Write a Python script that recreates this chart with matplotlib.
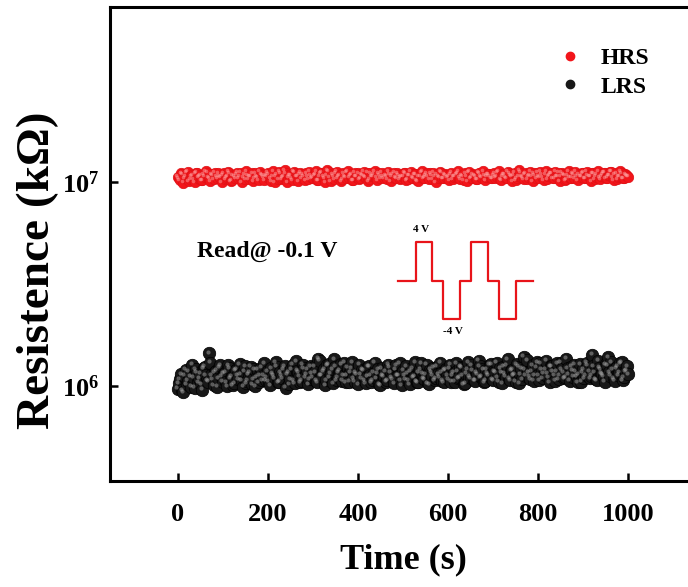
import numpy as np
import matplotlib
matplotlib.use("Agg")
import matplotlib.pyplot as plt
from matplotlib.lines import Line2D
from matplotlib.ticker import LogLocator, NullLocator, FixedLocator
import matplotlib.transforms as mtransforms

plt.rcParams['font.family'] = ['Liberation Serif', 'DejaVu Serif']
plt.rcParams['font.weight'] = 'bold'
plt.rcParams['mathtext.fontset'] = 'custom'
plt.rcParams['mathtext.rm'] = 'Liberation Serif:bold'
plt.rcParams['mathtext.bf'] = 'Liberation Serif:bold'
plt.rcParams['mathtext.it'] = 'Liberation Serif:italic:bold'

# ---------------- data ----------------
time_a = np.arange(0, 1001, 5)       # samples at 0, 5, ..., 1000 s
time_b = np.arange(2.5, 1000, 5)     # samples at 2.5, 7.5, ..., 997.5 s

# LRS resistance in units of 1e6 kOhm
lrs_a = [
    0.97, 1.08, 0.95, 1.12, 1.02, 1.18, 0.99, 1.10, 1.21, 1.04, 1.15, 0.96, 1.24, 1.07, 1.45, 1.13, 1.01, 1.19, 1.09, 1.26,
    1.05, 1.16, 1.00, 1.22, 1.11, 1.03, 1.20, 1.08, 1.14, 0.99, 1.25, 1.06, 1.17, 1.02, 1.21, 1.10, 1.04, 1.23, 1.12, 1.07,
    1.18, 1.01, 1.15, 1.09, 1.24, 1.05, 1.13, 1.20, 0.98, 1.16, 1.08, 1.27, 1.03, 1.19, 1.11, 1.06, 1.22, 1.14, 1.02, 1.25,
    1.10, 1.17, 1.04, 1.33, 1.12, 1.21, 1.07, 1.28, 1.15, 1.03, 1.24, 1.10, 1.19, 1.06, 1.30, 1.13, 1.05, 1.22, 1.09, 1.17,
    1.02, 1.14, 1.20, 1.06, 1.11, 1.25, 1.04, 1.16, 1.09, 1.21, 1.01, 1.13, 1.18, 1.07, 1.23, 1.10, 1.03, 1.26, 1.12, 1.06,
    1.19, 1.08, 1.15, 1.02, 1.22, 1.11, 1.05, 1.17, 1.29, 1.09, 1.14, 1.03, 1.20, 1.12, 1.07, 1.24, 1.10, 1.16, 1.04, 1.21,
    1.08, 1.27, 1.13, 1.05, 1.18, 1.10, 1.23, 1.02, 1.15, 1.31, 1.09, 1.19, 1.06, 1.14, 1.25, 1.11, 1.04, 1.20, 1.12, 1.28,
    1.07, 1.17, 1.10, 1.22, 1.03, 1.15, 1.26, 1.09, 1.19, 1.12, 1.05, 1.24, 1.14, 1.08, 1.21, 1.34, 1.11, 1.18, 1.06, 1.23,
    1.13, 1.29, 1.09, 1.20, 1.15, 1.04, 1.25, 1.12, 1.18, 1.08, 1.30, 1.16, 1.10, 1.22, 1.06, 1.19, 1.27, 1.11, 1.14, 1.05,
    1.21, 1.13, 1.26, 1.09, 1.42, 1.17, 1.07, 1.23, 1.15, 1.11, 1.28, 1.38, 1.12, 1.20, 1.06, 1.24, 1.16, 1.31, 1.10, 1.19,
    1.14,
]
lrs_b = [
    1.03, 1.14, 0.93, 1.20, 1.06, 1.11, 1.27, 0.98, 1.16, 1.09, 1.02, 1.22, 1.13, 1.05, 1.30, 1.08, 1.17, 0.99, 1.23, 1.11,
    1.15, 1.04, 1.26, 1.09, 1.01, 1.19, 1.12, 1.28, 1.06, 1.18, 1.03, 1.14, 1.24, 1.08, 1.00, 1.20, 1.13, 1.07, 1.29, 1.10,
    1.05, 1.22, 1.12, 1.31, 1.04, 1.17, 1.09, 1.25, 1.14, 1.02, 1.21, 1.07, 1.32, 1.16, 1.04, 1.27, 1.10, 1.20, 1.08, 1.15,
    1.24, 1.06, 1.36, 1.13, 1.18, 1.01, 1.26, 1.10, 1.21, 1.35, 1.07, 1.16, 1.28, 1.12, 1.04, 1.23, 1.17, 1.31, 1.05, 1.14,
    1.27, 1.09, 1.19, 1.03, 1.24, 1.13, 1.07, 1.30, 1.15, 1.02, 1.22, 1.11, 1.05, 1.27, 1.16, 1.08, 1.20, 1.12, 1.29, 1.01,
    1.13, 1.25, 1.06, 1.18, 1.10, 1.31, 1.04, 1.21, 1.15, 1.08, 1.27, 1.02, 1.17, 1.23, 1.09, 1.14, 1.30, 1.06, 1.19, 1.12,
    1.22, 1.05, 1.16, 1.29, 1.09, 1.24, 1.13, 1.03, 1.20, 1.11, 1.26, 1.07, 1.17, 1.33, 1.10, 1.21, 1.06, 1.15, 1.27, 1.08,
    1.18, 1.30, 1.05, 1.16, 1.24, 1.11, 1.35, 1.07, 1.20, 1.14, 1.28, 1.03, 1.22, 1.39, 1.12, 1.17, 1.08, 1.26, 1.13, 1.31,
    1.07, 1.21, 1.15, 1.33, 1.10, 1.25, 1.18, 1.06, 1.29, 1.13, 1.21, 1.09, 1.36, 1.14, 1.24, 1.11, 1.18, 1.04, 1.28, 1.16,
    1.09, 1.30, 1.18, 1.12, 1.25, 1.08, 1.33, 1.20, 1.14, 1.05, 1.26, 1.17, 1.31, 1.09, 1.22, 1.13, 1.29, 1.07, 1.18, 1.25,
]

# HRS resistance in units of 1e7 kOhm
hrs_a = [
    1.06, 1.02, 1.09, 1.04, 1.11, 1.01, 1.07, 1.03, 1.10, 1.05, 1.08, 1.02, 1.06, 1.11, 1.04, 1.09, 1.03, 1.07, 1.10, 1.05,
    1.08, 1.03, 1.06, 1.10, 1.02, 1.07, 1.09, 1.04, 1.11, 1.05, 1.03, 1.08, 1.06, 1.10, 1.04, 1.07, 1.02, 1.09, 1.05, 1.08,
    1.11, 1.04, 1.07, 1.00, 1.09, 1.12, 1.03, 1.06, 1.10, 1.05, 1.08, 1.02, 1.11, 1.06, 1.09, 1.04, 1.07, 1.10, 1.03, 1.08,
    1.05, 1.09, 1.02, 1.07, 1.11, 1.04, 1.08, 1.12, 1.01, 1.06, 1.10, 1.04, 1.08, 1.03, 1.07, 1.11, 1.05, 1.09, 1.02, 1.06,
    1.10, 1.04, 1.08, 1.06, 1.11, 1.03, 1.07, 1.09, 1.05, 1.10, 1.04, 1.07, 1.08, 1.03, 1.09, 1.06, 1.11, 1.04, 1.08, 1.05,
    1.07, 1.10, 1.03, 1.08, 1.05, 1.09, 1.02, 1.07, 1.11, 1.04, 1.08, 1.06, 1.10, 1.03, 1.07, 1.09, 1.05, 1.11, 1.04, 1.08,
    1.06, 1.09, 1.03, 1.07, 1.10, 1.05, 1.08, 1.02, 1.06, 1.11, 1.04, 1.09, 1.07, 1.03, 1.10, 1.05, 1.08, 1.06, 1.09, 1.04,
    1.08, 1.05, 1.11, 1.03, 1.07, 1.09, 1.04, 1.10, 1.06, 1.08, 1.02, 1.07, 1.11, 1.05, 1.09, 1.03, 1.08, 1.06, 1.10, 1.04,
    1.07, 1.12, 1.05, 1.09, 1.03, 1.08, 1.10, 1.04, 1.07, 1.11, 1.06, 1.09, 1.02, 1.08, 1.05, 1.10, 1.04, 1.07, 1.09, 1.06,
    1.11, 1.04, 1.08, 1.06, 1.10, 1.03, 1.09, 1.05, 1.07, 1.11, 1.04, 1.08, 1.12, 1.05, 1.09, 1.03, 1.07, 1.10, 1.04, 1.08,
    1.06,
]
hrs_b = [
    1.04, 1.10, 0.99, 1.07, 1.12, 1.03, 1.08, 1.00, 1.11, 1.06, 1.02, 1.09, 1.13, 1.05, 1.01, 1.08, 1.11, 1.04, 1.07, 1.00,
    1.10, 1.05, 1.12, 1.01, 1.08, 1.04, 1.11, 1.06, 1.00, 1.09, 1.13, 1.03, 1.07, 1.01, 1.10, 1.05, 1.12, 1.08, 1.02, 1.06,
    1.09, 1.01, 1.13, 1.06, 1.03, 1.10, 1.05, 1.14, 1.00, 1.08, 1.04, 1.12, 1.07, 1.01, 1.11, 1.09, 1.02, 1.06, 1.12, 1.04,
    1.08, 1.13, 1.02, 1.10, 1.06, 1.00, 1.14, 1.05, 1.09, 1.03, 1.12, 1.07, 1.01, 1.10, 1.05, 1.13, 1.08, 1.02, 1.11, 1.06,
    1.03, 1.09, 1.12, 1.05, 1.01, 1.10, 1.07, 1.13, 1.02, 1.08, 1.11, 1.04, 1.06, 1.12, 1.01, 1.09, 1.05, 1.10, 1.03, 1.07,
    1.11, 1.02, 1.08, 1.12, 1.04, 1.09, 1.01, 1.06, 1.13, 1.05, 1.10, 1.03, 1.08, 1.11, 1.00, 1.07, 1.12, 1.04, 1.09, 1.05,
    1.02, 1.11, 1.06, 1.09, 1.13, 1.03, 1.07, 1.10, 1.01, 1.12, 1.05, 1.08, 1.03, 1.11, 1.06, 1.13, 1.02, 1.09, 1.07, 1.04,
    1.10, 1.06, 1.13, 1.02, 1.09, 1.05, 1.12, 1.08, 1.01, 1.11, 1.04, 1.14, 1.07, 1.03, 1.10, 1.06, 1.12, 1.01, 1.08, 1.11,
    1.05, 1.09, 1.02, 1.13, 1.07, 1.10, 1.04, 1.12, 1.06, 1.01, 1.11, 1.08, 1.03, 1.13, 1.05, 1.09, 1.12, 1.02, 1.07, 1.10,
    1.04, 1.12, 1.07, 1.01, 1.10, 1.06, 1.13, 1.03, 1.09, 1.11, 1.05, 1.08, 1.12, 1.02, 1.10, 1.06, 1.13, 1.04, 1.09, 1.07,
]

# inset pulse waveform (relative time units, voltage)
pulse_t = [0, 18, 34, 45, 62, 73, 90, 101, 118, 135]
pulse_v = [0, 4, 0, -4, 0, 4, 0, -4, 0, 0]

x_ticks = [0, 200, 400, 600, 800, 1000]

# combine interleaved samples in time order
t_all = np.concatenate([time_a, time_b])
order = np.argsort(t_all, kind='stable')
t_all = t_all[order]
lrs_kohm = (np.concatenate([lrs_a, lrs_b]) * 1e6)[order]
hrs_kohm = (np.concatenate([hrs_a, hrs_b]) * 1e7)[order]

# ---------------- figure ----------------
W, H = 688, 587
fig = plt.figure(figsize=(W / 100, H / 100), dpi=100)
ax = fig.add_axes([110 / W, 106 / H, (696 - 110) / W, 474 / H])

ax.set_yscale('log')
ax.set_xlim(-150, 1150)
ax.set_ylim(3.42e5, 7.2e7)

def shaded(ax, x, y, base, edge, hi, ms, hms):
    ax.plot(x, y, 'o', ls='none', ms=ms, mfc=base, mec=edge, mew=0.5, zorder=3)
    off = mtransforms.offset_copy(ax.transData, fig=fig, x=-1.4, y=1.4, units='dots')
    ax.plot(x, y, 'o', ls='none', ms=hms, mfc=hi, mec='none', alpha=0.45,
            transform=off, zorder=4)

shaded(ax, t_all, hrs_kohm, '#f2151a', '#e01015', '#ffb0b0', 7.5, 2.6)
shaded(ax, t_all, lrs_kohm, '#181818', '#000000', '#b8b8b8', 9.0, 3.0)

ax.xaxis.set_major_locator(FixedLocator(x_ticks))
ax.yaxis.set_major_locator(LogLocator(base=10, numticks=10))
ax.yaxis.set_minor_locator(NullLocator())
ax.tick_params(which='major', direction='in', length=6, width=1.8, labelsize=19)
ax.tick_params(axis='x', pad=16)
ax.tick_params(axis='y', pad=8)
for s in ax.spines.values():
    s.set_linewidth(2.2)

ax.set_xlabel('Time (s)', fontsize=26, fontweight='bold', labelpad=12)
ax.set_ylabel('Resistence (k\u03a9)', fontsize=34, fontweight='bold')
ax.yaxis.set_label_coords(-0.087, (481 - 270) / 474)

handles = [
    Line2D([], [], ls='none', marker='o', ms=6, mfc='#f2151a', mec='#f2151a'),
    Line2D([], [], ls='none', marker='o', ms=6, mfc='#181818', mec='#181818'),
]
ax.legend(handles, ['HRS', 'LRS'], loc='upper right',
          bbox_to_anchor=(666 / W, 1 - 31 / H), bbox_transform=fig.transFigure,
          frameon=False, prop={'weight': 'bold', 'size': 17},
          handletextpad=0.8, labelspacing=0.3, handlelength=1.0, borderpad=0.2)

fig.text(197 / W, 1 - 251 / H, 'Read@ -0.1 V', fontsize=17, fontweight='bold',
         va='center', ha='left')

# inset waveform
iax = fig.add_axes([398 / W, (H - 319) / H, 135 / W, 77 / H])
iax.step(pulse_t, pulse_v, where='post', color='#e8141a', lw=1.6, clip_on=False)
iax.set_xlim(0, 135)
iax.set_ylim(-4, 4)
iax.axis('off')

fig.text(421 / W, 1 - 229 / H, '4 V', fontsize=8, fontweight='bold',
         ha='center', va='center')
fig.text(453 / W, 1 - 332 / H, '-4 V', fontsize=8, fontweight='bold',
         ha='center', va='center')

fig.savefig('out.png', dpi=100)
